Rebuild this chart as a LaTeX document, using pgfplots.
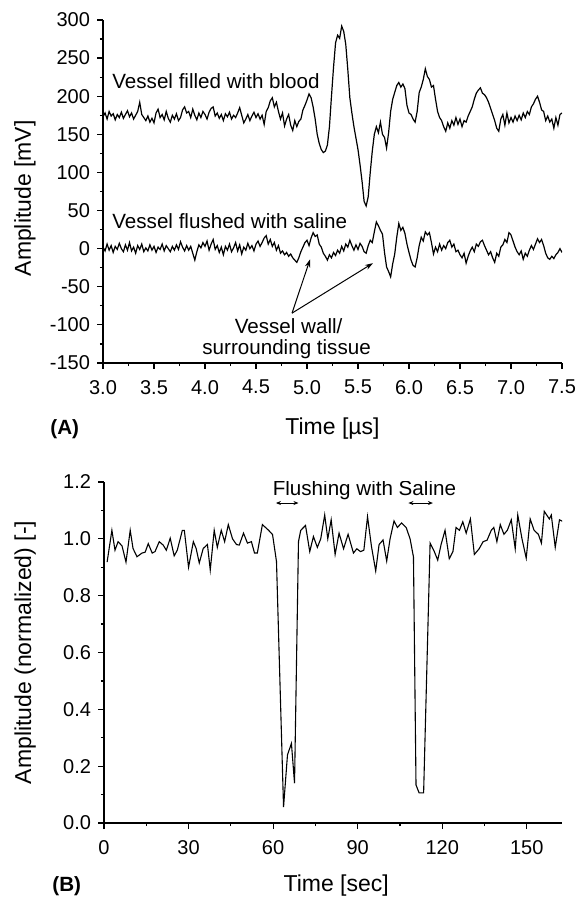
\documentclass[border=0pt]{standalone}
\usepackage{fontspec}
\setmainfont{Liberation Sans}
\usepackage{pgfplots}
\pgfplotsset{compat=1.18}
\usetikzlibrary{arrows.meta}
\begin{document}
\begin{tikzpicture}
\path[use as bounding box] (0pt,0pt) rectangle (289.5pt,448.5pt);
\pgfplotsset{
 common/.style={
  scale only axis,
  axis x line*=bottom, axis y line*=left,
  tick align=outside,
  major tick length=3pt, minor tick length=1.6pt,
  every tick/.style={black, line width=0.6pt},
  axis line style={line width=0.65pt},
  tick label style={font=\fontsize{10}{12}\selectfont},
  label style={font=\fontsize{11.5}{13}\selectfont},
  /pgf/number format/assume math mode=true,
  xticklabel style={yshift=-2pt},
 }
}
\begin{axis}[common, at={(51.5pt,267pt)}, anchor=south west,
  width=229.5pt, height=171.5pt,
  xmin=3, xmax=7.5, ymin=-150, ymax=300,
  xtick={3,3.5,4,4.5,5,5.5,6,6.5,7,7.5}, minor x tick num=1,
  ytick={-150,-100,-50,0,50,100,150,200,250,300}, minor y tick num=1,
  xticklabel style={/pgf/number format/.cd, fixed, fixed zerofill, precision=1},
  xlabel={Time [µs]}, ylabel={Amplitude [mV]},
  xlabel style={at={(axis description cs:0.5,-0.209)}, anchor=base},
  ylabel style={at={(axis description cs:-0.17,0.48)}, anchor=center},
]
\addplot[black, line width=0.6pt] coordinates {
(3.00,173) (3.02,178) (3.04,170) (3.06,180) (3.08,174) (3.10,177) (3.12,169) (3.14,176) (3.16,172) (3.18,179)
(3.20,171) (3.22,176) (3.24,181) (3.26,173) (3.28,178) (3.30,170) (3.32,175) (3.34,180) (3.36,192) (3.38,176)
(3.40,172) (3.42,168) (3.44,174) (3.46,166) (3.48,171) (3.50,165) (3.52,178) (3.54,183) (3.56,172) (3.58,176)
(3.60,169) (3.62,180) (3.64,171) (3.66,166) (3.68,175) (3.70,170) (3.72,177) (3.74,168) (3.76,172) (3.78,182)
(3.80,186) (3.82,178) (3.84,180) (3.86,172) (3.88,183) (3.90,175) (3.92,169) (3.94,178) (3.96,172) (3.98,180)
(4.00,176) (4.02,170) (4.04,179) (4.06,184) (4.08,186) (4.10,174) (4.12,178) (4.14,171) (4.16,176) (4.18,168)
(4.20,177) (4.22,173) (4.24,179) (4.26,170) (4.28,175) (4.30,172) (4.32,178) (4.34,185) (4.36,175) (4.38,165)
(4.40,170) (4.42,176) (4.44,168) (4.46,174) (4.48,179) (4.50,172) (4.52,177) (4.54,170) (4.56,175) (4.58,163)
(4.60,180) (4.62,185) (4.64,194) (4.66,198) (4.68,186) (4.70,192) (4.72,180) (4.74,170) (4.76,178) (4.78,161)
(4.80,170) (4.82,176) (4.84,162) (4.86,155) (4.88,168) (4.90,160) (4.92,167) (4.94,170) (4.96,182) (4.98,188)
(5.00,195) (5.02,203) (5.04,198) (5.06,186) (5.08,170) (5.10,150) (5.12,138) (5.14,130) (5.16,126) (5.18,128)
(5.20,136) (5.22,160) (5.24,200) (5.26,238) (5.28,270) (5.30,280) (5.32,276) (5.34,292) (5.36,285) (5.38,268)
(5.40,235) (5.42,198) (5.44,178) (5.46,160) (5.48,145) (5.50,130) (5.52,110) (5.54,88) (5.56,62) (5.58,56)
(5.60,68) (5.62,100) (5.64,128) (5.66,150) (5.68,160) (5.70,152) (5.72,166) (5.74,150) (5.76,146) (5.78,132)
(5.80,152) (5.82,180) (5.84,196) (5.86,205) (5.88,214) (5.90,218) (5.92,212) (5.94,216) (5.96,210) (5.98,188)
(6.00,178) (6.02,176) (6.04,170) (6.06,166) (6.08,180) (6.10,205) (6.12,212) (6.14,222) (6.16,236) (6.18,226)
(6.20,222) (6.22,212) (6.24,214) (6.26,196) (6.28,180) (6.30,172) (6.32,168) (6.34,160) (6.36,154) (6.38,165)
(6.40,158) (6.42,168) (6.44,162) (6.46,172) (6.48,163) (6.50,170) (6.52,160) (6.54,168) (6.56,166) (6.58,174)
(6.60,180) (6.62,186) (6.64,196) (6.66,204) (6.68,208) (6.70,211) (6.72,204) (6.74,202) (6.76,198) (6.78,192)
(6.80,184) (6.82,176) (6.84,168) (6.86,158) (6.88,154) (6.90,170) (6.92,176) (6.94,162) (6.96,178) (6.98,165)
(7.00,172) (7.02,166) (7.04,174) (7.06,168) (7.08,175) (7.10,169) (7.12,178) (7.14,172) (7.16,180) (7.18,176)
(7.20,186) (7.22,190) (7.24,196) (7.26,200) (7.28,192) (7.30,182) (7.32,180) (7.34,168) (7.36,174) (7.38,166)
(7.40,170) (7.42,158) (7.44,172) (7.46,162) (7.48,176) (7.50,178)
};
\addplot[black, line width=0.6pt] coordinates {
(3.00,2) (3.02,-3) (3.04,6) (3.06,-2) (3.08,4) (3.10,-5) (3.12,3) (3.14,-1) (3.16,7) (3.18,0)
(3.20,-4) (3.22,5) (3.24,-2) (3.26,8) (3.28,-3) (3.30,2) (3.32,-6) (3.34,4) (3.36,-1) (3.38,6)
(3.40,-4) (3.42,1) (3.44,-3) (3.46,5) (3.48,-2) (3.50,3) (3.52,-5) (3.54,2) (3.56,-1) (3.58,6)
(3.60,-3) (3.62,4) (3.64,0) (3.66,-4) (3.68,3) (3.70,-2) (3.72,5) (3.74,-1) (3.76,9) (3.78,2)
(3.80,-3) (3.82,4) (3.84,-2) (3.86,3) (3.88,-6) (3.90,-15) (3.92,-4) (3.94,5) (3.96,1) (3.98,8)
(4.00,3) (4.02,10) (4.04,-2) (4.06,6) (4.08,12) (4.10,-1) (4.12,4) (4.14,-5) (4.16,2) (4.18,-8)
(4.20,3) (4.22,-2) (4.24,6) (4.26,-4) (4.28,1) (4.30,8) (4.32,-3) (4.34,5) (4.36,-7) (4.38,2)
(4.40,-2) (4.42,7) (4.44,0) (4.46,4) (4.48,-3) (4.50,6) (4.52,10) (4.54,3) (4.56,8) (4.58,14)
(4.60,17) (4.62,6) (4.64,12) (4.66,3) (4.68,8) (4.70,-2) (4.72,4) (4.74,-6) (4.76,-3) (4.78,-8)
(4.80,-5) (4.82,-10) (4.84,-7) (4.86,-12) (4.88,-15) (4.90,-18) (4.92,-12) (4.94,-4) (4.96,2) (4.98,8)
(5.00,11) (5.02,4) (5.04,14) (5.06,21) (5.08,16) (5.10,18) (5.12,6) (5.14,2) (5.16,-6) (5.18,-10)
(5.20,-15) (5.22,-8) (5.24,-12) (5.26,-5) (5.28,-9) (5.30,-2) (5.32,-6) (5.34,3) (5.36,-3) (5.38,6)
(5.40,2) (5.42,11) (5.44,4) (5.46,-2) (5.48,5) (5.50,-1) (5.52,7) (5.54,3) (5.56,-4) (5.58,-6)
(5.60,4) (5.62,11) (5.64,8) (5.66,22) (5.68,35) (5.70,30) (5.72,24) (5.74,19) (5.76,-5) (5.78,-24)
(5.80,-30) (5.82,-37) (5.84,-20) (5.86,-7) (5.88,15) (5.90,33) (5.92,24) (5.94,28) (5.96,20) (5.98,6)
(6.00,-5) (6.02,-15) (6.04,-22) (6.06,-24) (6.08,-12) (6.10,4) (6.12,15) (6.14,10) (6.16,22) (6.18,18)
(6.20,21) (6.22,8) (6.24,-7) (6.26,2) (6.28,-4) (6.30,6) (6.32,-2) (6.34,4) (6.36,0) (6.38,8)
(6.40,11) (6.42,2) (6.44,6) (6.46,-4) (6.48,-2) (6.50,-8) (6.52,-12) (6.54,-6) (6.56,-19) (6.58,-10)
(6.60,-3) (6.62,2) (6.64,-4) (6.66,6) (6.68,3) (6.70,9) (6.72,11) (6.74,4) (6.76,-2) (6.78,-8)
(6.80,-4) (6.82,-12) (6.84,-18) (6.86,-6) (6.88,-10) (6.90,2) (6.92,5) (6.94,12) (6.96,8) (6.98,21)
(7.00,18) (7.02,10) (7.04,2) (7.06,-4) (7.08,-8) (7.10,-3) (7.12,-14) (7.14,-6) (7.16,-10) (7.18,-2)
(7.20,4) (7.22,-1) (7.24,6) (7.26,13) (7.28,8) (7.30,12) (7.32,4) (7.34,-6) (7.36,-12) (7.38,-14)
(7.40,-10) (7.42,-13) (7.44,-8) (7.46,-5) (7.48,0) (7.50,-5)
};
\node[anchor=base west, inner sep=0, font=\fontsize{10.3}{12}\selectfont] at (axis cs:3.088,209.7) {Vessel filled with blood};
\node[anchor=base west, inner sep=0, font=\fontsize{10.3}{12}\selectfont] at (axis cs:3.088,26.6) {Vessel flushed with saline};
\node[anchor=base, inner sep=0, font=\fontsize{10.3}{12}\selectfont] at (axis cs:4.82,-110.8) {Vessel wall/};
\node[anchor=base, inner sep=0, font=\fontsize{10.3}{12}\selectfont] at (axis cs:4.80,-138.3) {surrounding tissue};
\draw[line width=0.5pt, -{Stealth[length=4pt,width=2.6pt]}] (axis cs:4.853,-84.6) -- (axis cs:5.03,-14);
\draw[line width=0.5pt, -{Stealth[length=4pt,width=2.6pt]}] (axis cs:4.853,-84.6) -- (axis cs:5.647,-19);
\end{axis}

\begin{axis}[common, at={(52pt,37pt)}, anchor=south west,
  width=229pt, height=170.5pt,
  xmin=0, xmax=162.5, ymin=0, ymax=1.2,
  xtick={0,30,60,90,120,150}, minor x tick num=1,
  ytick={0,0.2,0.4,0.6,0.8,1.0,1.2}, minor y tick num=1,
  yticklabel style={/pgf/number format/.cd, fixed, fixed zerofill, precision=1},
  xlabel={Time [sec]}, ylabel={Amplitude (normalized) [-]},
  xlabel style={at={(axis description cs:0.507,-0.202)}, anchor=base},
  ylabel style={at={(axis description cs:-0.172,0.5)}, anchor=center},
]
\addplot[black, line width=0.55pt] coordinates {
(1.1,0.918) (2.8,1.03) (3.9,0.96) (5.0,0.99) (6.4,0.975) (7.8,0.918) (9.3,1.03) (10.3,0.966) (11.7,0.937) (13.5,0.95)
(14.6,0.953) (15.7,0.983) (17.1,0.95) (18.1,0.955) (19.6,0.99) (21.0,0.978) (22.1,0.96) (23.5,1.002) (24.9,0.94) (26.0,0.96)
(27.8,1.03) (28.5,1.03) (30.0,0.90) (31.7,0.99) (32.7,0.966) (33.8,0.915) (35.2,0.966) (36.7,0.98) (37.7,0.89) (39.1,1.03)
(40.2,0.97) (41.6,1.03) (42.8,0.99) (44.1,1.05) (45.6,1.0) (47.0,0.98) (48.0,0.978) (49.5,1.02) (50.9,0.985) (52.3,0.99)
(53.4,0.95) (54.4,0.95) (56.2,1.05) (57.3,1.04) (58.4,1.03) (59.8,1.015) (61.2,0.92) (63.7,0.056) (65.1,0.24) (66.5,0.28)
(67.6,0.14) (69.0,0.99) (69.8,1.03) (71.5,1.047) (73.0,0.955) (74.3,1.008) (75.7,0.97) (76.9,1.0) (78.3,1.084) (79.4,1.0)
(80.6,1.067) (82.0,0.945) (83.4,1.02) (85.0,0.965) (86.6,1.016) (88.5,0.95) (89.7,0.965) (91.0,0.955) (92.2,0.96) (93.5,1.078)
(94.9,0.973) (96.4,0.887) (97.6,0.98) (99.0,0.996) (100.3,0.922) (101.5,1.0) (102.9,1.063) (104.1,1.04) (105.6,1.056) (107.2,1.04)
(108.6,1.0) (109.8,0.936) (110.7,0.134) (111.8,0.106) (113.4,0.106) (115.7,0.985) (117.2,0.955) (118.4,0.925) (119.6,0.98) (121.0,1.03)
(122.5,0.93) (123.8,0.955) (124.9,1.04) (126.1,1.03) (127.3,1.06) (128.5,1.02) (130.0,1.07) (131.4,0.945) (133.1,0.965) (134.5,0.99)
(135.9,0.995) (137.4,1.03) (138.3,1.04) (139.4,0.99) (140.6,1.05) (141.9,1.016) (143.1,1.03) (144.5,1.067) (145.9,0.965) (146.8,1.084)
(148.3,1.0) (149.8,0.932) (151.2,1.07) (152.6,1.03) (154.1,1.016) (155.2,0.985) (156.2,1.097) (158.0,1.07) (158.7,1.084) (160.1,0.97)
(161.6,1.067) (163.0,1.06) (164.0,1.04)
};
\node[anchor=base, inner sep=0, font=\fontsize{10.3}{12}\selectfont] at (axis cs:92.4,1.154) {Flushing with Saline};
\draw[line width=0.5pt, {Stealth[length=2.5pt,width=2pt]}-{Stealth[length=2.5pt,width=2pt]}] (axis cs:61,1.126) -- (axis cs:69,1.126);
\draw[line width=0.5pt, {Stealth[length=2.5pt,width=2pt]}-{Stealth[length=2.5pt,width=2pt]}] (axis cs:108,1.126) -- (axis cs:116.7,1.126);
\end{axis}
\node[anchor=base west, inner sep=0, font=\bfseries\fontsize{10.3}{12}\selectfont] at (25pt,231pt) {(A)};
\node[anchor=base west, inner sep=0, font=\bfseries\fontsize{10.3}{12}\selectfont] at (26pt,2.5pt) {(B)};
\end{tikzpicture}
\end{document}
